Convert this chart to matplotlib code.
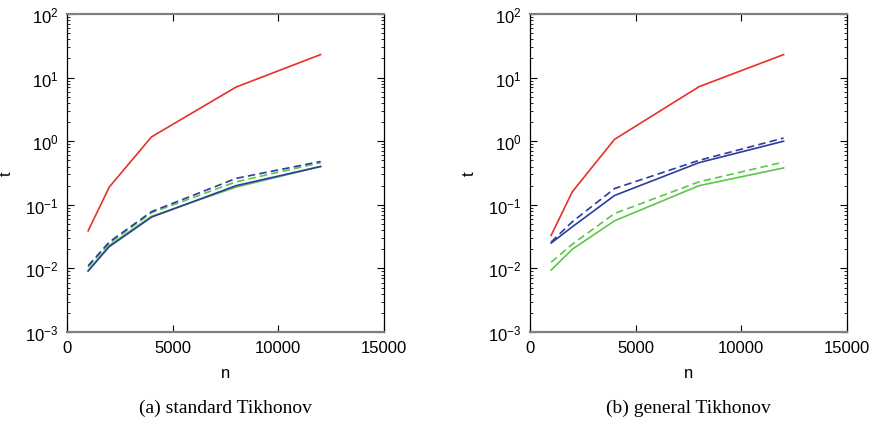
"""Timing of Tikhonov solvers versus problem size n (two panels)."""

import matplotlib
matplotlib.use("Agg")
import matplotlib.pyplot as plt
from matplotlib.ticker import LogLocator, FixedLocator, NullFormatter

plt.rcParams["font.family"] = ["Liberation Sans", "DejaVu Sans"]
plt.rcParams["mathtext.fontset"] = "custom"
plt.rcParams["mathtext.rm"] = "Liberation Sans"
plt.rcParams["mathtext.it"] = "Liberation Sans:italic"

n = [1000, 2000, 4000, 8000, 12000]

# (a) standard Tikhonov
std_red = [0.039, 0.19, 1.17, 7.1, 23.0]
std_blue = [0.0091, 0.022, 0.064, 0.20, 0.40]
std_blue_dash = [0.011, 0.026, 0.078, 0.26, 0.48]
std_green = [0.0092, 0.023, 0.066, 0.19, 0.40]
std_green_dash = [0.0105, 0.025, 0.075, 0.23, 0.46]

# (b) general Tikhonov
gen_red = [0.033, 0.16, 1.07, 7.2, 23.0]
gen_blue = [0.025, 0.045, 0.14, 0.46, 1.0]
gen_blue_dash = [0.026, 0.054, 0.18, 0.50, 1.12]
gen_green = [0.0094, 0.020, 0.056, 0.20, 0.38]
gen_green_dash = [0.0125, 0.024, 0.073, 0.23, 0.47]

captions = ["(a) standard Tikhonov", "(b) general Tikhonov"]

RED = "#e8302a"
BLUE = "#2b3d9e"
GREEN = "#5dc64b"
DASH = (0, (4.5, 2.5))
LW = 1.2

fig = plt.figure(figsize=(8.76, 4.27), dpi=100)
ax_a = fig.add_axes([67 / 876, 1 - 333 / 427, 317 / 876, 318 / 427])
ax_b = fig.add_axes([530 / 876, 1 - 333 / 427, 317 / 876, 318 / 427])

panels = [
    (ax_a, std_red, std_green, std_green_dash, std_blue, std_blue_dash),
    (ax_b, gen_red, gen_green, gen_green_dash, gen_blue, gen_blue_dash),
]

for (ax, red, green, green_d, blue, blue_d), cap in zip(panels, captions):
    ax.plot(n, red, color=RED, lw=LW)
    ax.plot(n, green, color=GREEN, lw=LW)
    ax.plot(n, green_d, color=GREEN, lw=LW, ls=DASH)
    ax.plot(n, blue_d, color=BLUE, lw=LW, ls=DASH)
    ax.plot(n, blue, color=BLUE, lw=LW)

    ax.set_yscale("log")
    ax.set_xlim(0, 15000)
    ax.set_ylim(1e-3, 1e2)
    ax.xaxis.set_major_locator(FixedLocator([0, 5000, 10000, 15000]))
    ax.yaxis.set_major_locator(LogLocator(base=10, numticks=10))
    ax.yaxis.set_minor_locator(LogLocator(base=10, subs=range(2, 10), numticks=20))
    ax.yaxis.set_minor_formatter(NullFormatter())

    ax.tick_params(which="both", direction="in", top=True, right=True,
                   labelsize=12, pad=6)
    ax.tick_params(which="major", length=5, width=0.8)
    ax.tick_params(which="minor", length=2.5, width=0.6)

    for side in ("top", "bottom"):
        ax.spines[side].set_color("#808080")
        ax.spines[side].set_linewidth(1.6)
    for side in ("left", "right"):
        ax.spines[side].set_color("black")
        ax.spines[side].set_linewidth(0.9)

    ax.set_xlabel("n", fontsize=12, labelpad=7)
    ax.set_ylabel("t", fontsize=12, labelpad=8)
    ax.text(0.5, -0.236, cap, transform=ax.transAxes, ha="center", va="center",
            fontsize=14, family=["Liberation Serif", "DejaVu Serif"])

fig.savefig("out.png", dpi=100)
